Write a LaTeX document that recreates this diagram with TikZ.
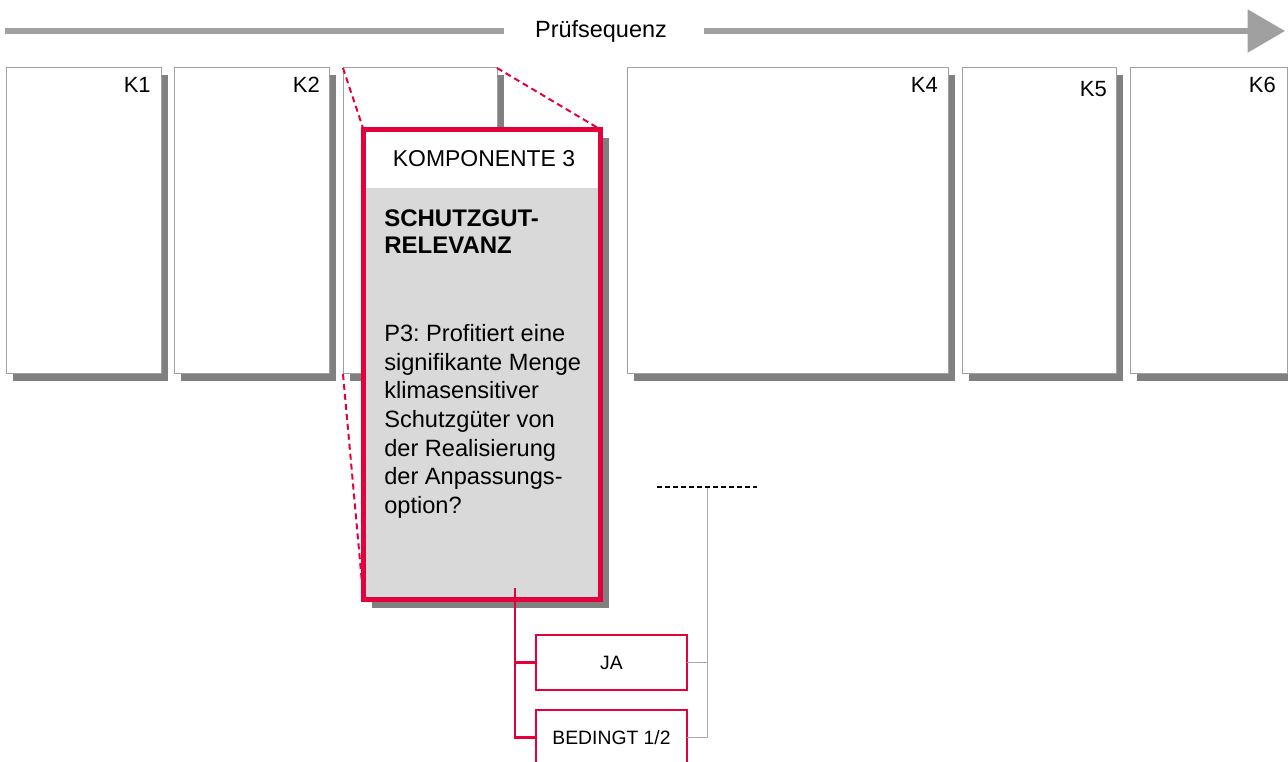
\documentclass[tikz,border=0pt]{standalone}
\usepackage{fontspec}
\setmainfont{Liberation Sans}
\usetikzlibrary{shadows,arrows.meta}
\definecolor{rd}{RGB}{228,0,58}
\definecolor{arrowgray}{RGB}{160,160,160}
\definecolor{shadowgray}{RGB}{128,128,128}
\definecolor{boxgray}{RGB}{160,160,160}
\definecolor{fillgray}{RGB}{217,217,217}
\definecolor{linegray}{RGB}{170,170,170}
\frenchspacing
\begin{document}
\begin{tikzpicture}[x=0.75pt,y=-0.75pt,
  kbox/.style={draw=boxgray, line width=0.75pt, fill=white, inner sep=0pt, outer sep=0pt,
    anchor=north west, minimum height=306*0.75pt,
    drop shadow={shadow xshift=5.25pt, shadow yshift=-5.5pt, fill=shadowgray, opacity=1}},
  klabel/.style={anchor=base east, inner sep=0pt, font=\fontsize{16.5}{18}\selectfont},
  answer/.style={draw=rd, line width=1.9pt, fill=white, inner sep=0pt, outer sep=0pt,
    minimum width=151*0.75pt, minimum height=55*0.75pt, font=\fontsize{14.5}{16}\selectfont},
  redline/.style={draw=rd, line width=1.9pt},
  dashred/.style={draw=rd, line width=1.5pt, dash pattern=on 4.5pt off 3pt},
  thingray/.style={draw=linegray, line width=0.75pt},
  seqline/.style={draw=arrowgray, line width=3.9pt}
]
\useasboundingbox (0,0) rectangle (1288,762);
\fill[white] (0,0) rectangle (1288,762);

% sequence arrow
\node[inner sep=0pt, font=\fontsize{17.6}{20}\selectfont] (seq) at (601,31) {Prüfsequenz};
\coordinate (a0) at (5,31);
\coordinate (a1) at (504,31);
\coordinate (a2) at (704,31);
\coordinate (a3) at (1285,31);
\draw[seqline] (a0) -- (a1);
\draw[seqline, -{Triangle[length=28pt, width=31.5pt]}] (a2) -- (a3);

% component boxes
\node[kbox, minimum width=155*0.75pt] (k1) at (6,68) {};
\node[kbox, minimum width=155*0.75pt] (k2) at (174,68) {};
\node[kbox, minimum width=154*0.75pt] (k3) at (343,68) {};
\node[kbox, minimum width=321*0.75pt] (k4) at (627,68) {};
\node[kbox, minimum width=154*0.75pt] (k5) at (962,68) {};
\node[kbox, minimum width=157*0.75pt] (k6) at (1130,68) {};

\node[klabel] (l1) at (151,93) {K1};
\node[klabel] (l2) at (320,93) {K2};
\node[klabel] (l4) at (938,93) {K4};
\node[klabel] (l5) at (1107,97) {K5};
\node[klabel] (l6) at (1276,93) {K6};

% detail box of component 3
\node[fill=fillgray, inner sep=0pt, outer sep=0pt, anchor=north west,
  minimum width=237*0.75pt, minimum height=470*0.75pt,
  drop shadow={shadow xshift=6.5pt, shadow yshift=-6.5pt, fill=shadowgray, opacity=1}]
  (k3d) at (363.5,129.5) {};
\draw[dashred] (k3.north west) -- (k3d.north west);
\draw[dashred] (k3.north east) -- (k3d.north east);
\draw[dashred] (k3.south west) -- (k3d.south west);
\fill[white] (k3d.north west) rectangle (600.5,188);
\node[inner sep=0pt, anchor=base, font=\fontsize{17.2}{20}\selectfont] (hdr) at (484,167) {KOMPONENTE 3};
\node[inner sep=0pt, anchor=north west, align=left, font=\fontsize{18}{20.5}\selectfont\bfseries]
  (title) at (384,209) {SCHUTZGUT-\\RELEVANZ};
\node[inner sep=0pt, anchor=north west, align=left, font=\fontsize{17.7}{21.5}\selectfont]
  (q) at (384,324) {P3: Profitiert eine\\signifikante Menge\\klimasensitiver\\Schutzgüter von\\der Realisierung\\der Anpassungs-\\option?};
\draw[draw=rd, line width=3.75pt] (k3d.north west) rectangle (k3d.south east);

% answers
\node[answer] (ja) at (611.5,662.5) {JA};
\node[answer] (bed) at (611.5,737.5) {BEDINGT 1/2};
\coordinate (c0) at (515,588);
\draw[redline] (c0) |- (ja.west);
\draw[redline] (c0) |- (bed.west);

\coordinate (g1) at (707,487);
\draw[thingray] (ja.east) -| (g1);
\draw[thingray] (bed.east) -| (g1);
\coordinate (d0) at (657,487);
\coordinate (d1) at (757,487);
\draw[black, line width=0.9pt, dash pattern=on 3.5pt off 2.5pt] (d0) -- (d1);
\end{tikzpicture}
\end{document}
